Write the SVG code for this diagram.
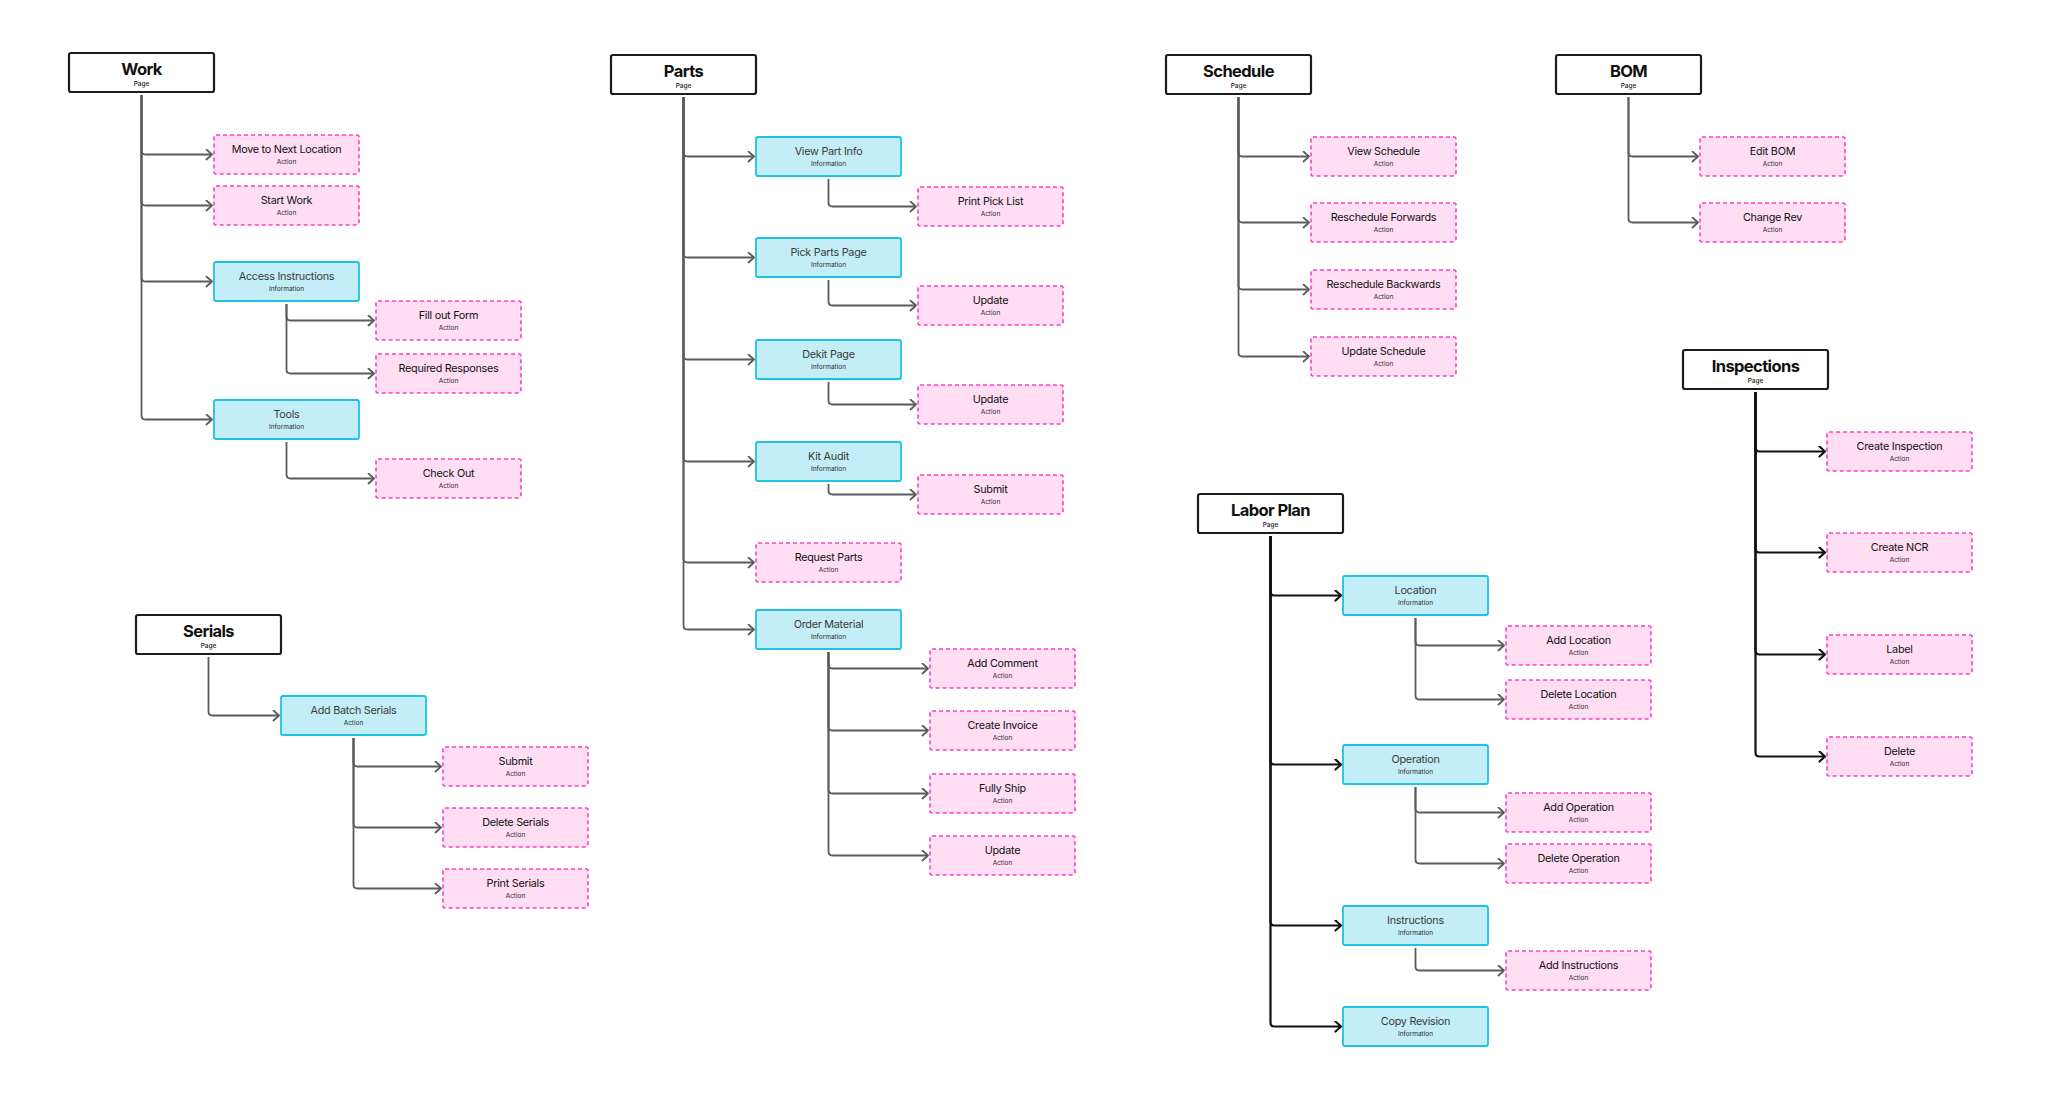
<svg xmlns="http://www.w3.org/2000/svg" width="2048" height="1113" viewBox="0 0 2048 1113">
<style>
.pg rect{fill:#fff;stroke:#1c1c1c;stroke-width:2.2}
.in rect{fill:#C4EEF7;stroke:#1FC1E4;stroke-width:1.8}
.ac rect{fill:#FFDDF2;stroke:#FF3FBF;stroke-width:1.6;stroke-dasharray:4 3}
text{font-family:Inter,"Noto Sans","Liberation Sans",sans-serif;text-anchor:middle}
.pt{font-size:16.5px;font-weight:700;fill:#111;letter-spacing:-0.6px}
.ps{font-size:6.5px;font-weight:500;fill:#222}
.nt{font-size:10.8px;font-weight:400;fill:#111;letter-spacing:-0.25px}
.in .nt{fill:#3a3a3a}
.ns{font-size:6.5px;fill:#2a2a2a}
.c{fill:none;stroke:#5b5b5b;stroke-width:1.8;marker-end:url(#ag)}
.k{fill:none;stroke:#111;stroke-width:2.2;marker-end:url(#ab)}
</style>
<defs>
<marker id="ag" viewBox="0 0 8 12" refX="7" refY="6" markerWidth="8" markerHeight="12" markerUnits="userSpaceOnUse" orient="auto"><path d="M1.5 1 L7 6 L1.5 11" fill="none" stroke="#5b5b5b" stroke-width="1.8" stroke-linecap="round" stroke-linejoin="round"/></marker>
<marker id="ab" viewBox="0 0 8 12" refX="7" refY="6" markerWidth="8" markerHeight="12" markerUnits="userSpaceOnUse" orient="auto"><path d="M1.5 1 L7 6 L1.5 11" fill="none" stroke="#111" stroke-width="2.2" stroke-linecap="round" stroke-linejoin="round"/></marker>
</defs>
<rect width="2048" height="1113" fill="#fff"/>
<g id="connectors">
<path class="c" d="M141.5 95 V150.5 Q141.5 154.5 145.5 154.5 H212"/>
<path class="c" d="M141.5 95 V201.5 Q141.5 205.5 145.5 205.5 H212"/>
<path class="c" d="M141.5 95 V277.5 Q141.5 281.5 145.5 281.5 H212"/>
<path class="c" d="M141.5 95 V415.5 Q141.5 419.5 145.5 419.5 H212"/>
<path class="c" d="M286.5 304 V316.5 Q286.5 320.5 290.5 320.5 H374"/>
<path class="c" d="M286.5 304 V369.5 Q286.5 373.5 290.5 373.5 H374"/>
<path class="c" d="M286.5 442 V474.5 Q286.5 478.5 290.5 478.5 H374"/>
<path class="c" d="M208.5 657 V711.5 Q208.5 715.5 212.5 715.5 H279"/>
<path class="c" d="M353.5 738 V762.5 Q353.5 766.5 357.5 766.5 H441"/>
<path class="c" d="M353.5 738 V823.5 Q353.5 827.5 357.5 827.5 H441"/>
<path class="c" d="M353.5 738 V884.5 Q353.5 888.5 357.5 888.5 H441"/>
<path class="c" d="M683.5 97 V152.5 Q683.5 156.5 687.5 156.5 H754"/>
<path class="c" d="M683.5 97 V253.5 Q683.5 257.5 687.5 257.5 H754"/>
<path class="c" d="M683.5 97 V355.5 Q683.5 359.5 687.5 359.5 H754"/>
<path class="c" d="M683.5 97 V457.5 Q683.5 461.5 687.5 461.5 H754"/>
<path class="c" d="M683.5 97 V558.5 Q683.5 562.5 687.5 562.5 H754"/>
<path class="c" d="M683.5 97 V625.5 Q683.5 629.5 687.5 629.5 H754"/>
<path class="c" d="M828.5 179 V202.5 Q828.5 206.5 832.5 206.5 H916"/>
<path class="c" d="M828.5 280 V301.5 Q828.5 305.5 832.5 305.5 H916"/>
<path class="c" d="M828.5 382 V400.5 Q828.5 404.5 832.5 404.5 H916"/>
<path class="c" d="M828.5 484 V490.5 Q828.5 494.5 832.5 494.5 H916"/>
<path class="c" d="M828.5 652 V664.5 Q828.5 668.5 832.5 668.5 H928"/>
<path class="c" d="M828.5 652 V726.5 Q828.5 730.5 832.5 730.5 H928"/>
<path class="c" d="M828.5 652 V789.5 Q828.5 793.5 832.5 793.5 H928"/>
<path class="c" d="M828.5 652 V851.5 Q828.5 855.5 832.5 855.5 H928"/>
<path class="c" d="M1238.5 97 V152.5 Q1238.5 156.5 1242.5 156.5 H1309"/>
<path class="c" d="M1238.5 97 V218.5 Q1238.5 222.5 1242.5 222.5 H1309"/>
<path class="c" d="M1238.5 97 V285.5 Q1238.5 289.5 1242.5 289.5 H1309"/>
<path class="c" d="M1238.5 97 V352.5 Q1238.5 356.5 1242.5 356.5 H1309"/>
<path class="c" d="M1628.5 97 V152.5 Q1628.5 156.5 1632.5 156.5 H1698"/>
<path class="c" d="M1628.5 97 V218.5 Q1628.5 222.5 1632.5 222.5 H1698"/>
<path class="k" d="M1755.5 392 V447.5 Q1755.5 451.5 1759.5 451.5 H1825"/>
<path class="k" d="M1755.5 392 V548.5 Q1755.5 552.5 1759.5 552.5 H1825"/>
<path class="k" d="M1755.5 392 V650.5 Q1755.5 654.5 1759.5 654.5 H1825"/>
<path class="k" d="M1755.5 392 V752.5 Q1755.5 756.5 1759.5 756.5 H1825"/>
<path class="k" d="M1270.5 536 V591.5 Q1270.5 595.5 1274.5 595.5 H1341"/>
<path class="k" d="M1270.5 536 V760.5 Q1270.5 764.5 1274.5 764.5 H1341"/>
<path class="k" d="M1270.5 536 V921.5 Q1270.5 925.5 1274.5 925.5 H1341"/>
<path class="k" d="M1270.5 536 V1022.5 Q1270.5 1026.5 1274.5 1026.5 H1341"/>
<path class="c" d="M1415.5 618 V641.5 Q1415.5 645.5 1419.5 645.5 H1504"/>
<path class="c" d="M1415.5 618 V695.5 Q1415.5 699.5 1419.5 699.5 H1504"/>
<path class="c" d="M1415.5 787 V808.5 Q1415.5 812.5 1419.5 812.5 H1504"/>
<path class="c" d="M1415.5 787 V859.5 Q1415.5 863.5 1419.5 863.5 H1504"/>
<path class="c" d="M1415.5 948 V966.5 Q1415.5 970.5 1419.5 970.5 H1504"/>
</g>

<g id="work" class="pg"><rect x="69" y="53" width="145" height="39" rx="2"/><text class="pt" x="141.5" y="75">Work</text><text class="ps" x="141.5" y="86">Page</text></g>
<g id="move-next" class="ac"><rect x="214" y="135" width="145" height="39" rx="2"/><text class="nt" x="286.5" y="153.3">Move to Next Location</text><text class="ns" x="286.5" y="164">Action</text></g>
<g id="start-work" class="ac"><rect x="214" y="186" width="145" height="39" rx="2"/><text class="nt" x="286.5" y="204.3">Start Work</text><text class="ns" x="286.5" y="215">Action</text></g>
<g id="access-instructions" class="in"><rect x="214" y="262" width="145" height="39" rx="2"/><text class="nt" x="286.5" y="280.3">Access Instructions</text><text class="ns" x="286.5" y="291">Information</text></g>
<g id="fill-form" class="ac"><rect x="376" y="301" width="145" height="39" rx="2"/><text class="nt" x="448.5" y="319.3">Fill out Form</text><text class="ns" x="448.5" y="330">Action</text></g>
<g id="required-responses" class="ac"><rect x="376" y="354" width="145" height="39" rx="2"/><text class="nt" x="448.5" y="372.3">Required Responses</text><text class="ns" x="448.5" y="383">Action</text></g>
<g id="tools" class="in"><rect x="214" y="400" width="145" height="39" rx="2"/><text class="nt" x="286.5" y="418.3">Tools</text><text class="ns" x="286.5" y="429">Information</text></g>
<g id="check-out" class="ac"><rect x="376" y="459" width="145" height="39" rx="2"/><text class="nt" x="448.5" y="477.3">Check Out</text><text class="ns" x="448.5" y="488">Action</text></g>

<g id="serials" class="pg"><rect x="136" y="615" width="145" height="39" rx="2"/><text class="pt" x="208.5" y="637">Serials</text><text class="ps" x="208.5" y="648">Page</text></g>
<g id="add-batch-serials" class="in"><rect x="281" y="696" width="145" height="39" rx="2"/><text class="nt" x="353.5" y="714.3">Add Batch Serials</text><text class="ns" x="353.5" y="725">Action</text></g>
<g id="serials-submit" class="ac"><rect x="443" y="747" width="145" height="39" rx="2"/><text class="nt" x="515.5" y="765.3">Submit</text><text class="ns" x="515.5" y="776">Action</text></g>
<g id="delete-serials" class="ac"><rect x="443" y="808" width="145" height="39" rx="2"/><text class="nt" x="515.5" y="826.3">Delete Serials</text><text class="ns" x="515.5" y="837">Action</text></g>
<g id="print-serials" class="ac"><rect x="443" y="869" width="145" height="39" rx="2"/><text class="nt" x="515.5" y="887.3">Print Serials</text><text class="ns" x="515.5" y="898">Action</text></g>

<g id="parts" class="pg"><rect x="611" y="55" width="145" height="39" rx="2"/><text class="pt" x="683.5" y="77">Parts</text><text class="ps" x="683.5" y="88">Page</text></g>
<g id="view-part-info" class="in"><rect x="756" y="137" width="145" height="39" rx="2"/><text class="nt" x="828.5" y="155.3">View Part Info</text><text class="ns" x="828.5" y="166">Information</text></g>
<g id="print-pick-list" class="ac"><rect x="918" y="187" width="145" height="39" rx="2"/><text class="nt" x="990.5" y="205.3">Print Pick List</text><text class="ns" x="990.5" y="216">Action</text></g>
<g id="pick-parts-page" class="in"><rect x="756" y="238" width="145" height="39" rx="2"/><text class="nt" x="828.5" y="256.3">Pick Parts Page</text><text class="ns" x="828.5" y="267">Information</text></g>
<g id="pick-update" class="ac"><rect x="918" y="286" width="145" height="39" rx="2"/><text class="nt" x="990.5" y="304.3">Update</text><text class="ns" x="990.5" y="315">Action</text></g>
<g id="dekit-page" class="in"><rect x="756" y="340" width="145" height="39" rx="2"/><text class="nt" x="828.5" y="358.3">Dekit Page</text><text class="ns" x="828.5" y="369">Information</text></g>
<g id="dekit-update" class="ac"><rect x="918" y="385" width="145" height="39" rx="2"/><text class="nt" x="990.5" y="403.3">Update</text><text class="ns" x="990.5" y="414">Action</text></g>
<g id="kit-audit" class="in"><rect x="756" y="442" width="145" height="39" rx="2"/><text class="nt" x="828.5" y="460.3">Kit Audit</text><text class="ns" x="828.5" y="471">Information</text></g>
<g id="kit-submit" class="ac"><rect x="918" y="475" width="145" height="39" rx="2"/><text class="nt" x="990.5" y="493.3">Submit</text><text class="ns" x="990.5" y="504">Action</text></g>
<g id="request-parts" class="ac"><rect x="756" y="543" width="145" height="39" rx="2"/><text class="nt" x="828.5" y="561.3">Request Parts</text><text class="ns" x="828.5" y="572">Action</text></g>
<g id="order-material" class="in"><rect x="756" y="610" width="145" height="39" rx="2"/><text class="nt" x="828.5" y="628.3">Order Material</text><text class="ns" x="828.5" y="639">Information</text></g>
<g id="add-comment" class="ac"><rect x="930" y="649" width="145" height="39" rx="2"/><text class="nt" x="1002.5" y="667.3">Add Comment</text><text class="ns" x="1002.5" y="678">Action</text></g>
<g id="create-invoice" class="ac"><rect x="930" y="711" width="145" height="39" rx="2"/><text class="nt" x="1002.5" y="729.3">Create Invoice</text><text class="ns" x="1002.5" y="740">Action</text></g>
<g id="fully-ship" class="ac"><rect x="930" y="774" width="145" height="39" rx="2"/><text class="nt" x="1002.5" y="792.3">Fully Ship</text><text class="ns" x="1002.5" y="803">Action</text></g>
<g id="order-update" class="ac"><rect x="930" y="836" width="145" height="39" rx="2"/><text class="nt" x="1002.5" y="854.3">Update</text><text class="ns" x="1002.5" y="865">Action</text></g>

<g id="schedule" class="pg"><rect x="1166" y="55" width="145" height="39" rx="2"/><text class="pt" x="1238.5" y="77">Schedule</text><text class="ps" x="1238.5" y="88">Page</text></g>
<g id="view-schedule" class="ac"><rect x="1311" y="137" width="145" height="39" rx="2"/><text class="nt" x="1383.5" y="155.3">View Schedule</text><text class="ns" x="1383.5" y="166">Action</text></g>
<g id="reschedule-forwards" class="ac"><rect x="1311" y="203" width="145" height="39" rx="2"/><text class="nt" x="1383.5" y="221.3">Reschedule Forwards</text><text class="ns" x="1383.5" y="232">Action</text></g>
<g id="reschedule-backwards" class="ac"><rect x="1311" y="270" width="145" height="39" rx="2"/><text class="nt" x="1383.5" y="288.3">Reschedule Backwards</text><text class="ns" x="1383.5" y="299">Action</text></g>
<g id="update-schedule" class="ac"><rect x="1311" y="337" width="145" height="39" rx="2"/><text class="nt" x="1383.5" y="355.3">Update Schedule</text><text class="ns" x="1383.5" y="366">Action</text></g>

<g id="bom" class="pg"><rect x="1556" y="55" width="145" height="39" rx="2"/><text class="pt" x="1628.5" y="77">BOM</text><text class="ps" x="1628.5" y="88">Page</text></g>
<g id="edit-bom" class="ac"><rect x="1700" y="137" width="145" height="39" rx="2"/><text class="nt" x="1772.5" y="155.3">Edit BOM</text><text class="ns" x="1772.5" y="166">Action</text></g>
<g id="change-rev" class="ac"><rect x="1700" y="203" width="145" height="39" rx="2"/><text class="nt" x="1772.5" y="221.3">Change Rev</text><text class="ns" x="1772.5" y="232">Action</text></g>

<g id="inspections" class="pg"><rect x="1683" y="350" width="145" height="39" rx="2"/><text class="pt" x="1755.5" y="372">Inspections</text><text class="ps" x="1755.5" y="383">Page</text></g>
<g id="create-inspection" class="ac"><rect x="1827" y="432" width="145" height="39" rx="2"/><text class="nt" x="1899.5" y="450.3">Create Inspection</text><text class="ns" x="1899.5" y="461">Action</text></g>
<g id="create-ncr" class="ac"><rect x="1827" y="533" width="145" height="39" rx="2"/><text class="nt" x="1899.5" y="551.3">Create NCR</text><text class="ns" x="1899.5" y="562">Action</text></g>
<g id="label" class="ac"><rect x="1827" y="635" width="145" height="39" rx="2"/><text class="nt" x="1899.5" y="653.3">Label</text><text class="ns" x="1899.5" y="664">Action</text></g>
<g id="delete" class="ac"><rect x="1827" y="737" width="145" height="39" rx="2"/><text class="nt" x="1899.5" y="755.3">Delete</text><text class="ns" x="1899.5" y="766">Action</text></g>

<g id="labor-plan" class="pg"><rect x="1198" y="494" width="145" height="39" rx="2"/><text class="pt" x="1270.5" y="516">Labor Plan</text><text class="ps" x="1270.5" y="527">Page</text></g>
<g id="location" class="in"><rect x="1343" y="576" width="145" height="39" rx="2"/><text class="nt" x="1415.5" y="594.3">Location</text><text class="ns" x="1415.5" y="605">Information</text></g>
<g id="add-location" class="ac"><rect x="1506" y="626" width="145" height="39" rx="2"/><text class="nt" x="1578.5" y="644.3">Add Location</text><text class="ns" x="1578.5" y="655">Action</text></g>
<g id="delete-location" class="ac"><rect x="1506" y="680" width="145" height="39" rx="2"/><text class="nt" x="1578.5" y="698.3">Delete Location</text><text class="ns" x="1578.5" y="709">Action</text></g>
<g id="operation" class="in"><rect x="1343" y="745" width="145" height="39" rx="2"/><text class="nt" x="1415.5" y="763.3">Operation</text><text class="ns" x="1415.5" y="774">Information</text></g>
<g id="add-operation" class="ac"><rect x="1506" y="793" width="145" height="39" rx="2"/><text class="nt" x="1578.5" y="811.3">Add Operation</text><text class="ns" x="1578.5" y="822">Action</text></g>
<g id="delete-operation" class="ac"><rect x="1506" y="844" width="145" height="39" rx="2"/><text class="nt" x="1578.5" y="862.3">Delete Operation</text><text class="ns" x="1578.5" y="873">Action</text></g>
<g id="instructions" class="in"><rect x="1343" y="906" width="145" height="39" rx="2"/><text class="nt" x="1415.5" y="924.3">Instructions</text><text class="ns" x="1415.5" y="935">Information</text></g>
<g id="add-instructions" class="ac"><rect x="1506" y="951" width="145" height="39" rx="2"/><text class="nt" x="1578.5" y="969.3">Add Instructions</text><text class="ns" x="1578.5" y="980">Action</text></g>
<g id="copy-revision" class="in"><rect x="1343" y="1007" width="145" height="39" rx="2"/><text class="nt" x="1415.5" y="1025.3">Copy Revision</text><text class="ns" x="1415.5" y="1036">Information</text></g>
</svg>
